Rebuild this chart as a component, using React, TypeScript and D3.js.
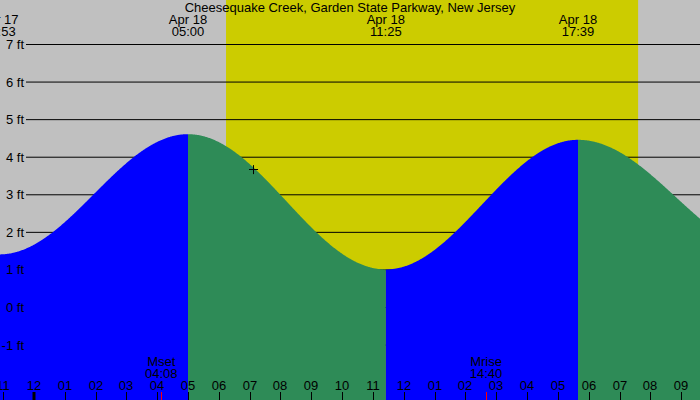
import React from "react";
import * as d3 from "d3";

const W = 700;
const H = 400;

const title = "Cheesequake Creek, Garden State Parkway, New Jersey";
// hours relative to Apr 18 00:00
const tideTimes = [-7.3, -1.117, 5.0, 11.417, 17.65, 24.0];
const tideHeights = [4.5, 1.4, 4.6, 1.0, 4.45, 1.4];
const tideDates = ["Apr 17", "Apr 17", "Apr 18", "Apr 18", "Apr 18", "Apr 18"];
const tideLabels = ["16:42", "22:53", "05:00", "11:25", "17:39", "00:00"];

const sunrise = 6.233;
const sunset = 19.6;

const moonTimes = [4.133, 14.667];
const moonNames = ["Mset", "Mrise"];
const moonLabels = ["04:08", "14:40"];

const yTicks = [-1, 0, 1, 2, 3, 4, 5, 6, 7];
const hourTicks = d3.range(-1, 22);

const marker = { t: 7.11, h: 3.67 };

const FONT = "'Liberation Sans', Arial, sans-serif";

function tideAt(t: number): number {
  for (let i = 0; i < tideTimes.length - 1; i++) {
    const t0 = tideTimes[i], t1 = tideTimes[i + 1];
    if (t >= t0 && t <= t1) {
      const f = (t - t0) / (t1 - t0);
      const h0 = tideHeights[i], h1 = tideHeights[i + 1];
      return h1 + (h0 - h1) * (1 + Math.cos(Math.PI * f)) / 2;
    }
  }
  return tideHeights[tideHeights.length - 1];
}

export default function App() {
  const x = d3.scaleLinear().domain([-1.098, 21.607]).range([0, W]);
  const y = d3.scaleLinear().domain([0, 7]).range([307, 44]);
  const [t0, t1] = x.domain();

  const area = d3
    .area<number>()
    .x((t) => x(t))
    .y0(H)
    .y1((t) => y(tideAt(t)));

  const segments: { d: string; color: string }[] = [];
  for (let i = 0; i < tideTimes.length - 1; i++) {
    const a = Math.max(tideTimes[i], t0 - 0.1);
    const b = Math.min(tideTimes[i + 1], t1 + 0.1);
    if (b <= a) continue;
    const pts = d3.range(a, b, 0.02).concat([b]);
    const rising = tideHeights[i + 1] > tideHeights[i];
    segments.push({ d: area(pts) || "", color: rising ? "#0000ff" : "#2e8b57" });
  }

  const fmtHour = (h: number) => {
    const hh = ((h % 12) + 12) % 12 || 12;
    return String(hh).padStart(2, "0");
  };

  return (
    <svg
      width={W}
      height={H}
      style={{ position: "absolute", left: 0, top: 0 }}
      fontFamily={FONT}
      fontSize={13}
    >
      <rect x={0} y={0} width={W} height={H} fill="#c0c0c0" />
      <rect x={x(sunrise)} y={0} width={x(sunset) - x(sunrise)} height={H} fill="#cccc00" />
      {yTicks.map((v) => (
        <line key={v} x1={26} x2={W} y1={y(v) + 0.5} y2={y(v) + 0.5} stroke="#000" strokeWidth={1} />
      ))}
      {segments.map((s, i) => (
        <path key={i} d={s.d} fill={s.color} />
      ))}
      {yTicks.map((v) => (
        <text key={v} x={24} y={y(v) + 5} textAnchor="end" fill="#000">
          {v} ft
        </text>
      ))}
      <text x={W / 2} y={12} textAnchor="middle" fill="#000">{title}</text>
      {tideTimes.map((t, i) =>
        x(t) > -30 && x(t) < W + 30 ? (
          <g key={i}>
            <text x={x(t)} y={24} textAnchor="middle">{tideDates[i]}</text>
            <text x={x(t)} y={36} textAnchor="middle">{tideLabels[i]}</text>
          </g>
        ) : null
      )}
      {moonTimes.map((t, i) => (
        <g key={i}>
          <text x={x(t)} y={366} textAnchor="middle">{moonNames[i]}</text>
          <text x={x(t)} y={378} textAnchor="middle">{moonLabels[i]}</text>
          <line x1={Math.round(x(t)) + 0.5} x2={Math.round(x(t)) + 0.5} y1={392} y2={H} stroke="#ff0000" />
        </g>
      ))}
      {hourTicks.map((h) => {
        const px = Math.round(x(h));
        return (
          <g key={h}>
            <text x={px} y={390} textAnchor="middle">{fmtHour(h)}</text>
            <line
              x1={h === 0 ? px : px + 0.5}
              x2={h === 0 ? px : px + 0.5}
              y1={392}
              y2={H}
              stroke="#000"
              strokeWidth={h === 0 ? 3 : 1}
            />
          </g>
        );
      })}
      <g stroke="#000" strokeWidth={1}>
        <line x1={x(marker.t) - 4} x2={x(marker.t) + 5} y1={Math.round(y(marker.h)) + 0.5} y2={Math.round(y(marker.h)) + 0.5} />
        <line x1={Math.round(x(marker.t)) + 0.5} x2={Math.round(x(marker.t)) + 0.5} y1={y(marker.h) - 4} y2={y(marker.h) + 5} />
      </g>
    </svg>
  );
}
